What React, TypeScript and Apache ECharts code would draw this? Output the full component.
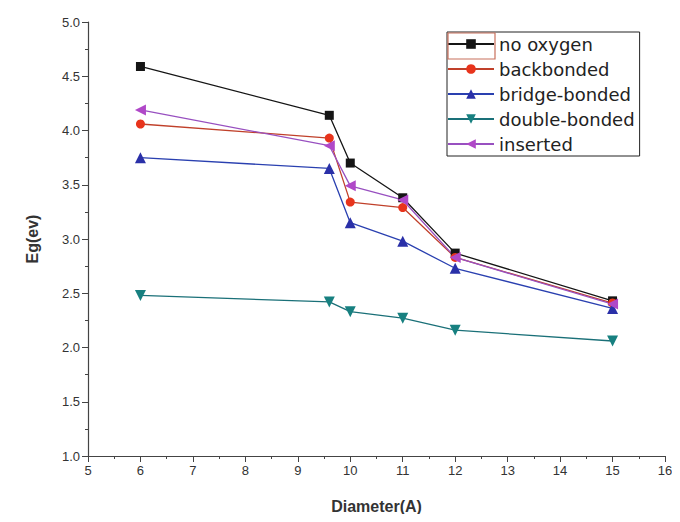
import React, { useEffect, useRef } from "react";
import * as echarts from "echarts";

const diameters = [6, 9.6, 10, 11, 12, 15];
const noOxygen = [4.59, 4.14, 3.7, 3.38, 2.87, 2.43];
const backbonded = [4.06, 3.93, 3.34, 3.29, 2.83, 2.41];
const bridgeBonded = [3.75, 3.65, 3.15, 2.98, 2.73, 2.36];
const doubleBonded = [2.48, 2.42, 2.33, 2.27, 2.16, 2.06];
const inserted = [4.19, 3.86, 3.49, 3.36, 2.83, 2.4];
const seriesNames = ["no oxygen", "backbonded", "bridge-bonded", "double-bonded", "inserted"];

export default function App() {
  const ref = useRef<HTMLDivElement>(null);
  useEffect(() => {
    if (!ref.current) return;
    const chart = echarts.init(ref.current, null, { renderer: "svg" });
    const font = "'Liberation Sans', Arial, sans-serif";
    const mk = (name: string, vals: number[], color: string, lineColor: string, symbol: string, size: number, rotate = 0) => ({
      name,
      type: "line",
      data: diameters.map((d, i) => [d, vals[i]]),
      symbol,
      symbolSize: size,
      symbolRotate: rotate,
      itemStyle: { color },
      lineStyle: { color: lineColor, width: 1.3 },
    });
    chart.setOption({
      animation: false,
      backgroundColor: "#ffffff",
      grid: { left: 80, right: 7, top: 14, bottom: 58, containLabel: false, outerBoundsMode: "none" },
      legend: {
        orient: "vertical",
        left: 439,
        top: 24,
        itemWidth: 46,
        itemHeight: 12,
        itemGap: 7,
        padding: [3, 5, 3, 0],
        borderColor: "#222",
        borderWidth: 1,
        textStyle: { fontFamily: "'DejaVu Sans', sans-serif", fontSize: 18, color: "#222" },
        data: seriesNames,
      },
      graphic: [
        {
          type: "rect",
          shape: { x: 440, y: 25, width: 47, height: 26 },
          style: { fill: "none", stroke: "#c8705c", lineWidth: 1.2 },
          silent: true,
          z: 100,
        },
      ],
      xAxis: {
        type: "value",
        min: 5,
        max: 16,
        interval: 1,
        axisLine: { lineStyle: { color: "#444", width: 1.2 } },
        axisTick: { inside: false, length: 6, lineStyle: { color: "#444" } },
        minorTick: { show: true, splitNumber: 2, length: 3, lineStyle: { color: "#444" } },
        axisLabel: { fontFamily: font, fontSize: 13, color: "#333", margin: 8 },
        splitLine: { show: false },
        name: "Diameter(A)",
        nameLocation: "middle",
        nameGap: 42,
        nameTextStyle: { fontFamily: font, fontSize: 16, fontWeight: "bold", color: "#333" },
      },
      yAxis: {
        type: "value",
        min: 1,
        max: 5,
        interval: 0.5,
        axisLine: { show: true, lineStyle: { color: "#444", width: 1.2 } },
        axisTick: { show: true, inside: false, length: 6, lineStyle: { color: "#444" } },
        minorTick: { show: true, splitNumber: 2, length: 3, lineStyle: { color: "#444" } },
        axisLabel: { fontFamily: font, fontSize: 13, color: "#333", margin: 8, formatter: (v: number) => v.toFixed(1) },
        splitLine: { show: false },
        name: "Eg(ev)",
        nameLocation: "middle",
        nameGap: 48,
        nameTextStyle: { fontFamily: font, fontSize: 16, fontWeight: "bold", color: "#333" },
      },
      series: [
        mk("no oxygen", noOxygen, "#151515", "#151515", "rect", 9),
        mk("backbonded", backbonded, "#e8341c", "#c0402a", "circle", 9),
        mk("bridge-bonded", bridgeBonded, "#2a30a8", "#2a40b0", "triangle", 11),
        mk("double-bonded", doubleBonded, "#178080", "#1a7078", "triangle", 11, 180),
        mk("inserted", inserted, "#b048c8", "#9850c0", "triangle", 11, 90),
      ],
    });
    return () => chart.dispose();
  }, []);
  return <div ref={ref} style={{ width: 664, height: 506 }} />;
}
